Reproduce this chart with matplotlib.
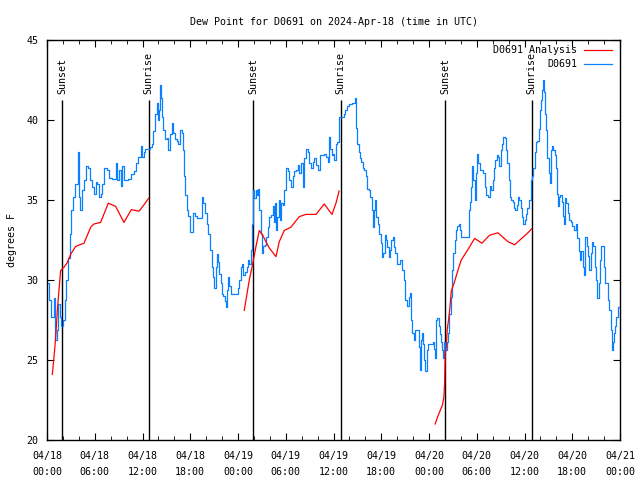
import numpy as np
import matplotlib.pyplot as plt
from matplotlib.ticker import MultipleLocator

# Hours since 2024-04-18 00:00 UTC
station = "D0691"

# Station observations (D0691)
obs_hours = [
    0.13, 0.25, 0.54, 0.88, 1.0, 1.21, 1.38, 1.63, 1.8, 2.0, 2.22, 2.39, 2.64, 2.89, 3.06, 3.31, 3.48, 3.73,
    3.89, 4.02, 4.19, 4.4, 4.65, 4.9, 5.15, 5.4, 5.65, 5.9, 6.11, 6.32, 6.53, 6.74, 6.95, 7.16, 7.58, 7.79,
    8.21, 8.5, 8.67, 8.84, 9.05, 9.25, 9.46, 9.67, 9.92, 10.18, 10.51, 10.93, 11.18, 11.47, 11.77, 11.98, 12.19,
    12.3, 12.94, 13.19, 13.36, 13.57, 13.78, 13.9, 14.07, 14.2, 14.32, 14.45, 14.62, 14.83, 15.04, 15.25, 15.45,
    15.7, 15.87, 16.08, 16.29, 16.5, 16.71, 16.92, 17.05, 17.17, 17.34, 17.55, 17.76, 17.97, 18.18, 18.39, 18.6,
    18.8, 19.22, 19.43, 19.64, 19.85, 20.06, 20.27, 20.48, 20.69, 20.9, 21.02, 21.19, 21.32, 21.44, 21.61, 21.82,
    21.99, 22.15, 22.36, 22.53, 22.66, 22.79, 22.91, 23.08, 23.41, 23.75,
    23.95, 24.16, 24.37, 24.5, 24.66, 24.87, 25.08, 25.25, 25.42, 25.63, 25.76, 25.84, 26.05, 26.26, 26.43, 26.55,
    26.68, 26.85, 27.01, 27.18, 27.35, 27.51, 27.72, 27.93, 28.14, 28.35, 28.48, 28.64, 28.77, 28.94, 29.1, 29.27,
    29.44, 29.61, 29.82, 30.03, 30.28, 30.45, 30.65, 30.86, 31.07, 31.28, 31.49, 31.7, 31.91, 32.12, 32.33, 32.54,
    32.75, 32.96, 33.17, 33.38, 33.59, 33.8, 34.0, 34.3, 34.55, 34.84, 35.05, 35.26, 35.47, 35.6, 35.77, 35.98,
    36.1, 36.31,
    36.47, 36.64, 36.85, 37.14, 37.31, 37.48, 37.69, 37.98, 38.32, 38.53, 38.66, 38.82, 38.99, 39.16, 39.32, 39.49,
    39.66, 39.87, 40.08, 40.25, 40.41, 40.62, 40.83, 41.0, 41.12, 41.25, 41.37, 41.54, 41.75, 41.92, 42.09, 42.25,
    42.42, 42.59, 42.76, 42.93, 43.1, 43.26, 43.43, 43.6, 43.77, 43.97, 44.18, 44.39, 44.6, 44.81, 45.02, 45.23,
    45.44, 45.6, 45.73, 45.9, 46.07, 46.28, 46.53, 46.69, 46.82, 46.99, 47.11, 47.24, 47.41, 47.53, 47.7, 47.86,
    48.49, 48.62, 48.78, 48.91, 49.04, 49.2, 49.33, 49.45, 49.62, 49.75, 49.87, 50.04, 50.21, 50.38, 50.54, 50.71,
    50.88, 51.05, 51.21, 51.38, 51.55, 51.72, 51.88, 52.05, 52.47, 52.8, 52.97, 53.14, 53.31, 53.43, 53.56, 53.73,
    53.9, 54.07, 54.19, 54.36, 54.57, 54.78, 54.99, 55.2, 55.4, 55.61, 55.82, 55.99, 56.16, 56.33, 56.49, 56.66,
    56.83, 57.0, 57.16, 57.33, 57.5, 57.66, 57.83, 58.0, 58.17, 58.34, 58.5, 58.67, 58.84, 59.0, 59.17, 59.34,
    59.51, 59.68, 59.84, 60.01, 60.18, 60.35,
    60.55, 60.76, 60.92, 61.09, 61.26, 61.43, 61.6, 61.76, 61.93, 62.06, 62.23, 62.35, 62.48, 62.6, 62.73, 62.86,
    63.02, 63.15, 63.27, 63.44, 63.61, 63.78, 63.94, 64.07, 64.19, 64.32, 64.49, 64.66, 64.78, 64.95, 65.08, 65.24,
    65.41, 65.58, 65.79, 66.0, 66.21, 66.42, 66.63, 66.79, 66.96, 67.13, 67.3, 67.46, 67.63, 67.8, 67.97, 68.13,
    68.3, 68.51, 68.64, 68.81, 68.97, 69.14, 69.31, 69.48, 69.65, 69.81, 69.98, 70.15, 70.32, 70.48, 70.65, 70.82,
    70.95, 71.07, 71.23, 71.4, 71.53, 71.7, 71.86, 72.0,
]
obs_dewpt = [
    29.8, 28.75, 27.7, 28.9, 26.25, 26.9, 28.5, 27.7, 27.1, 27.5, 28.75, 30.0, 31.4, 32.9, 34.4, 35.2, 36.0, 36.0,
    38.0, 35.2, 34.4, 35.6, 36.25, 37.1, 37.0, 36.25, 35.8, 35.4, 36.1, 36.0, 35.2, 35.4, 36.0, 37.0, 36.9, 36.4,
    36.3, 36.3, 37.3, 36.25, 36.9, 35.9, 37.1, 36.25, 36.25, 36.3, 36.6, 36.8, 37.3, 37.7, 38.4, 37.7, 38.0,
    38.2, 38.3, 38.5, 39.3, 40.4, 41.05, 40.0, 40.6, 42.2, 41.4, 40.2, 39.4, 38.8, 38.9, 38.1, 39.1,
    39.8, 39.2, 38.8, 38.7, 38.5, 39.4, 39.2, 38.1, 36.5, 35.3, 34.4, 34.0, 33.0, 33.0, 34.2, 34.0,
    33.9, 33.9, 35.2, 34.8, 34.2, 33.5, 32.9, 31.9, 30.8, 30.2, 29.5, 30.8, 31.6, 31.1, 30.4, 29.8,
    29.1, 29.0, 28.7, 28.3, 29.4, 30.2, 29.6, 29.1, 29.1, 29.1,
    29.5, 30.0, 30.8, 31.0, 30.3, 30.5, 30.8, 31.25, 31.0, 31.9, 33.5, 35.6, 35.1, 35.6, 35.3, 35.7,
    34.4, 32.9, 31.7, 32.1, 32.2, 32.7, 33.3, 33.96, 34.06, 34.6, 33.65, 34.8, 33.1, 33.96, 35.0, 33.75,
    34.8, 34.7, 35.6, 37.0, 36.8, 36.25, 35.8, 36.5, 36.8, 36.9, 37.2, 36.7, 37.3, 35.8, 37.6, 38.2,
    38.0, 37.3, 37.0, 37.4, 37.6, 37.2, 36.9, 37.8, 37.8, 37.9, 37.7, 37.4, 38.96, 38.2, 37.8, 37.9,
    37.5, 38.5,
    38.6, 40.2, 40.2, 40.2, 40.4, 40.6, 40.9, 41.0, 41.04, 41.08, 41.35, 39.5, 38.5, 38.0, 37.6, 37.4,
    37.0, 36.9, 36.5, 35.7, 35.6, 35.2, 34.4, 33.3, 34.4, 35.0, 33.96, 33.5, 32.9, 32.3, 31.46, 31.7,
    32.8, 32.5, 32.08, 31.46, 31.9, 32.5, 32.7, 32.08, 31.7, 31.0, 31.0, 31.25, 30.6, 30.0, 28.75, 28.4,
    28.96, 29.2, 27.5, 26.7, 26.25, 26.9, 26.9, 25.8, 24.4, 26.25, 26.7, 26.0, 25.0, 24.3, 25.6, 26.0,
    26.1, 25.7, 25.1, 27.5, 27.6, 27.1, 26.6, 26.1, 25.6, 25.1, 26.1, 25.6, 26.1, 26.7, 27.9, 28.96,
    30.6, 31.67, 32.5, 33.1, 33.4, 33.5, 33.1, 32.7, 32.7, 32.7, 34.4, 34.9, 35.8, 37.1, 36.25, 35.0,
    36.7, 37.9, 37.3, 36.9, 36.9, 36.7, 35.8, 35.3, 35.2, 35.9, 35.6, 36.25, 37.0, 37.5, 37.8, 37.7,
    37.1, 38.1, 38.5, 38.96, 38.85, 38.1, 37.3, 36.25, 35.2, 35.0, 34.9, 34.5, 34.4, 34.7, 35.2, 35.0,
    34.5, 33.96, 33.5, 33.75, 34.1, 34.5,
    35.0, 36.25, 36.5, 37.0, 38.0, 38.6, 38.7, 39.45, 40.6, 41.25, 41.9, 42.5, 41.75, 40.4, 39.4, 37.6,
    36.7, 36.05, 38.1, 38.4, 38.1, 37.8, 37.0, 35.4, 34.6, 35.2, 35.3, 34.9, 34.0, 33.5, 35.1, 34.8,
    34.2, 33.75, 33.6, 33.4, 33.1, 33.5, 32.6, 31.8, 31.25, 31.8, 30.8, 30.3, 32.7, 32.1, 31.5, 30.6,
    31.7, 32.4, 32.1, 30.8, 30.0, 28.85, 29.8, 31.25, 32.1, 32.1, 30.8, 29.8, 29.8, 28.75, 28.1, 26.9,
    25.6, 26.1, 26.7, 27.1, 27.7, 28.3, 28.3, 28.3,
]

# Analysis (night-time segments only, NaN breaks the line)
ana_hours = [
    0.67, 0.88, 1.09, 1.3, 1.51, 1.72, 2.14, 2.56, 2.97, 3.6, 4.65, 5.49, 5.9, 6.74, 7.7, 8.63, 9.67, 10.6,
    11.56, 12.19, 12.75, 18.0,
    24.79, 25.0, 25.42, 25.84, 26.26, 26.68, 27.1, 27.51, 27.93, 28.77, 29.19, 29.82, 30.65, 31.7, 32.54, 33.8,
    34.84, 35.81, 36.31, 36.7, 42.0,
    48.78, 49.12, 49.45, 49.7, 49.87, 49.96, 50.04, 50.17, 50.29, 50.46, 50.63, 50.8, 51.21, 51.63, 52.05, 52.89,
    53.73, 54.65, 55.61, 56.66, 57.91, 58.75, 60.43, 60.9,
]
ana_dewpt = [
    24.1, 25.2, 26.4, 28.1, 29.4, 30.6, 30.8, 31.1, 31.6, 32.1, 32.3, 33.3, 33.5, 33.6, 34.8, 34.6, 33.6, 34.4,
    34.3, 34.7, 35.1, np.nan,
    28.1, 28.75, 30.0, 31.0, 32.1, 33.1, 32.8, 32.4, 32.0, 31.46, 32.4, 33.1, 33.3, 33.96, 34.1, 34.1,
    34.75, 34.1, 34.8, 35.56, np.nan,
    21.0, 21.5, 21.9, 22.2, 22.7, 23.5, 25.4, 25.8, 26.9, 27.5, 28.3, 29.3, 29.9, 30.6, 31.25, 31.9,
    32.6, 32.3, 32.8, 32.95, 32.4, 32.2, 32.95, 33.2,
]

# Sun events (hours)
sun_hours = [1.9, 12.8, 25.9, 36.9, 50.0, 60.9]
sun_labels = ["Sunset", "Sunrise", "Sunset", "Sunrise", "Sunset", "Sunrise"]

tick_hours = list(range(0, 73, 6))
tick_labels = ["04/18\n00:00", "04/18\n06:00", "04/18\n12:00", "04/18\n18:00",
               "04/19\n00:00", "04/19\n06:00", "04/19\n12:00", "04/19\n18:00",
               "04/20\n00:00", "04/20\n06:00", "04/20\n12:00", "04/20\n18:00",
               "04/21\n00:00"]

FS = 7.2
plt.rcParams["font.family"] = "DejaVu Sans Mono"
plt.rcParams["font.size"] = FS

fig = plt.figure(figsize=(6.4, 4.8), dpi=100)
ax = fig.add_axes([47 / 640, 40 / 480, 573 / 640, 400 / 480])

ax.plot(obs_hours, obs_dewpt, color="#0a80ff", lw=0.9, drawstyle="steps-post", zorder=3)
ax.plot(ana_hours, ana_dewpt, color="#ff0000", lw=0.9, zorder=4)

# sunrise / sunset markers
ax.vlines(sun_hours, 20, 41.25, color="black", lw=1.0, zorder=2)
for h, lab in zip(sun_hours, sun_labels):
    ax.text(h, 41.6, lab, rotation=90, ha="center", va="bottom", fontsize=FS)

ax.set_xlim(0, 72)
ax.set_ylim(20, 45)
ax.set_xticks(tick_hours)
ax.set_xticklabels(tick_labels, linespacing=1.7)
ax.xaxis.set_minor_locator(MultipleLocator(2))
ax.set_yticks(range(20, 46, 5))
ax.tick_params(which="both", direction="in", top=True, right=True, length=5, labelsize=FS)
ax.tick_params(axis="x", pad=8)
ax.tick_params(axis="y", pad=6)
ax.tick_params(which="minor", length=3)
for s in ax.spines.values():
    s.set_linewidth(1.0)

ax.set_ylabel("degrees F", labelpad=7, fontsize=FS)
ax.set_title(f"Dew Point for {station} on 2024-Apr-18 (time in UTC)", pad=11, fontsize=FS)

# legend, gnuplot style (right-aligned text, sample on the right)
for i, (lab, col) in enumerate([(f"{station} Analysis", "#ff0000"), (station, "#0a80ff")]):
    yy = 0.975 - i * 0.034
    ax.text(0.925, yy, lab, transform=ax.transAxes, ha="right", va="center", fontsize=FS)
    ax.plot([0.937, 0.986], [yy, yy], transform=ax.transAxes, color=col, lw=0.9)

fig.savefig("out.png", dpi=100)
